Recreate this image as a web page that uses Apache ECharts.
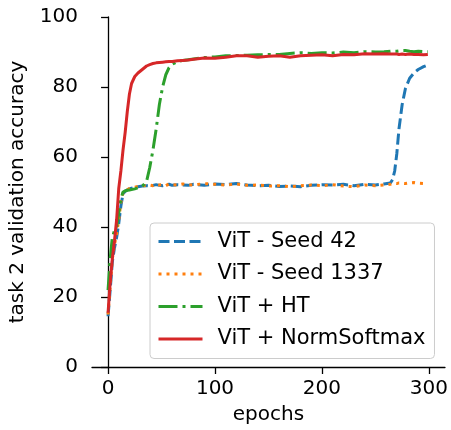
<!DOCTYPE html>
<html>
<head>
<meta charset="utf-8">
<script src="https://cdn.jsdelivr.net/npm/echarts@6/dist/echarts.min.js"></script>
<style>
  html, body { margin: 0; padding: 0; background: #fff; }
  #chart { width: 451px; height: 430px; }
</style>
</head>
<body>
<div id="chart"></div>
<script>
// epochs sampled (finer where curves change fast)
const epochs = [0, 2, 4, 6, 8, 10, 12, 14, 16, 18, 20, 22, 25, 28, 32, 36, 39, 42, 45, 48, 51, 54, 57, 60,
  65, 70, 75, 80, 90, 100, 110, 120, 130, 140, 150, 160, 170, 180, 190, 200, 210, 220, 230, 240, 250,
  258, 264, 266, 268, 270, 272, 275, 278, 282, 286, 290, 295, 299];

const seed42 = [14.5, 22, 30, 34, 37, 41, 46, 49.5, 50.2, 50.6, 50.9, 51.1, 51.3, 51.5, 51.7, 51.8, 51.7, 51.9, 52.1, 51.9, 51.8, 52.0, 52.2, 51.9,
  52.1, 52.0, 51.9, 52.2, 51.9, 52.3, 52.1, 52.4, 52.0, 51.8, 51.9, 51.6, 51.7, 51.5, 51.9, 52.1, 52.0, 52.2, 51.8, 52.2, 52.0,
  52.3, 52.6, 53.5, 56, 61, 68, 75, 79.5, 82.5, 84, 85, 85.8, 86.3];

const seed1337 = [15, 23, 31, 35, 38, 42, 47, 49.7, 50.3, 50.7, 51.0, 51.2, 51.4, 51.6, 51.8, 51.9, 52.0, 51.8, 52.2, 52.0, 52.1, 51.8, 52.3, 52.1,
  52.0, 52.3, 52.1, 52.0, 52.4, 52.2, 52.0, 52.3, 51.9, 52.0, 51.7, 51.8, 51.5, 51.8, 52.0, 51.8, 52.1, 51.7, 51.5, 52.0, 51.8,
  52.0, 52.2, 52.3, 52.5, 52.4, 52.6, 52.5, 52.4, 52.6, 52.7, 52.5, 52.4, 52.4];

const vitHT = [22, 31, 37, 39, 40, 44, 48, 50, 50.3, 50.5, 50.6, 50.7, 50.9, 51.2, 51.6, 53, 57, 62, 68, 75, 80, 83.5, 85.5, 86.5,
  87.3, 87.6, 87.8, 88.0, 88.4, 88.6, 88.9, 89.0, 89.1, 89.2, 89.3, 89.3, 89.6, 89.8, 89.6, 89.8, 89.7, 90.0, 89.8, 90.1, 90.0,
  90.1, 90.2, 90.3, 90.2, 90.2, 90.3, 90.4, 90.4, 90.2, 90.1, 90.2, 90.1, 90.1];

const vitNorm = [15.5, 24, 31, 36, 42, 51, 56, 62, 67, 73, 78, 81, 83, 84, 85, 86, 86.4, 86.7, 86.9, 87.0, 87.1, 87.2, 87.3, 87.3,
  87.5, 87.6, 87.7, 87.9, 88.3, 88.2, 88.5, 88.9, 88.9, 88.5, 88.8, 88.9, 88.5, 88.9, 89.1, 89.2, 88.9, 89.3, 89.2, 89.5, 89.4,
  89.5, 89.4, 89.4, 89.4, 89.4, 89.3, 89.4, 89.3, 89.4, 89.3, 89.3, 89.2, 89.3];

const names = ['ViT - Seed 42', 'ViT - Seed 1337', 'ViT + HT', 'ViT + NormSoftmax'];
const colors = ['#1f77b4', '#ff7f0e', '#2ca02c', '#d62728'];
const dashes = [[11, 4.5], [3, 5], [19, 5, 3, 5], 'solid'];
const xTicks = [0, 100, 200, 300];

const font = 'DejaVu Sans';

function pairs(vals) {
  return epochs.map((e, i) => [e, vals[i]]);
}

const allVals = [seed42, seed1337, vitHT, vitNorm];

let option = {
  animation: false,
  grid: { left: 92, right: 6, top: 17, bottom: 63 },
  legend: {
    orient: 'vertical',
    left: 150,
    top: 223,
    padding: [8, 9, 9, 7],
    itemWidth: 44,
    itemHeight: 20,
    itemGap: 11.5,
    borderColor: '#cccccc',
    borderWidth: 1,
    borderRadius: 4,
    backgroundColor: 'rgba(255,255,255,0.85)',
    itemStyle: { opacity: 0 },
    lineStyle: { width: 3, cap: 'butt' },
    textStyle: { fontFamily: font, fontSize: 21, color: '#000', padding: [0, 0, 0, 10] },
    data: names
  },
  xAxis: {
    type: 'value',
    min: -15,
    max: 315,
    name: 'epochs',
    nameLocation: 'middle',
    nameGap: 38,
    nameTextStyle: { fontFamily: font, fontSize: 20, color: '#000' },
    axisLine: { lineStyle: { color: '#000', width: 1.3 } },
    axisTick: { customValues: xTicks, length: 7, lineStyle: { color: '#000', width: 1.3 } },
    axisLabel: { customValues: xTicks, margin: 12, fontFamily: font, fontSize: 20, color: '#000' },
    splitLine: { show: false }
  },
  yAxis: {
    type: 'value',
    min: 0,
    max: 100,
    interval: 20,
    name: 'task 2 validation accuracy',
    nameLocation: 'middle',
    nameGap: 64,
    nameTextStyle: { fontFamily: font, fontSize: 20, color: '#000' },
    axisLine: { show: true, lineStyle: { color: '#000', width: 1.3 } },
    axisTick: { show: true, length: 7, lineStyle: { color: '#000', width: 1.3 } },
    axisLabel: { margin: 14, fontFamily: font, fontSize: 20, color: '#000' },
    splitLine: { show: false }
  },
  series: names.map((n, i) => ({
    name: n,
    type: 'line',
    symbol: 'none',
    smooth: false,
    data: pairs(allVals[i]),
    itemStyle: { color: colors[i] },
    lineStyle: { color: colors[i], width: 3, type: dashes[i], cap: 'butt' }
  }))
};

let myChart = echarts.init(document.getElementById('chart'));
myChart.setOption(option);
</script>
</body>
</html>
